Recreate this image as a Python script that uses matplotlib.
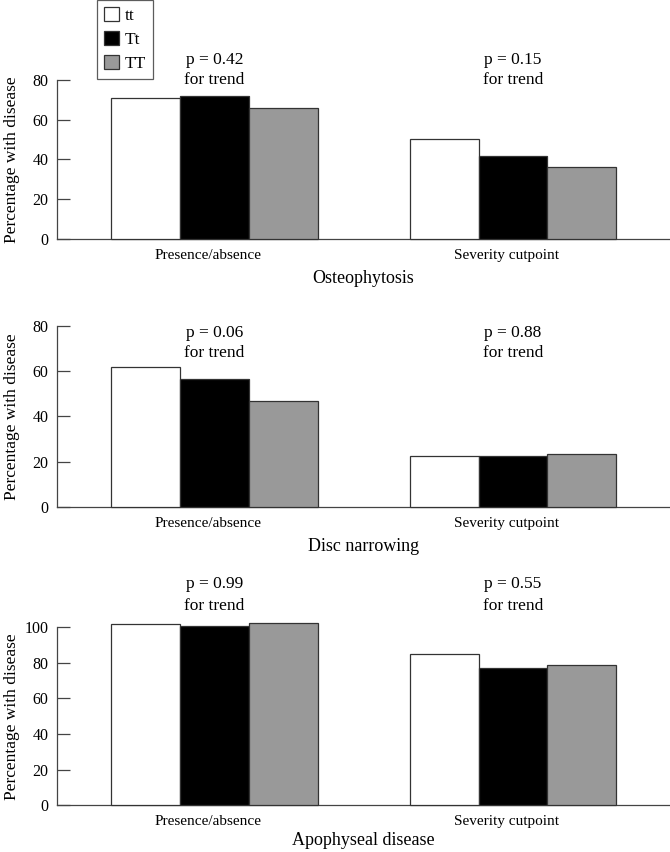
import matplotlib
matplotlib.use('Agg')
import matplotlib.pyplot as plt
import numpy as np
from matplotlib.patches import Patch

plt.rcParams['font.family'] = ['Liberation Serif', 'DejaVu Serif']

# data
groups = ['Presence/absence', 'Severity cutpoint']
genotypes = ['tt', 'Tt', 'TT']
colors = ['white', 'black', '#999999']

osteo_tt = [70.9, 50.1]
osteo_Tt = [71.9, 42.0]
osteo_TT = [66.0, 36.2]

disc_tt = [62.0, 22.7]
disc_Tt = [56.4, 22.7]
disc_TT = [46.8, 23.6]

apo_tt = [101.7, 84.9]
apo_Tt = [100.4, 77.3]
apo_TT = [102.2, 78.6]

p_osteo = ['0.42', '0.15']
p_disc = ['0.06', '0.88']
p_apo = ['0.99', '0.55']

titles = ['Osteophytosis', 'Disc narrowing', 'Apophyseal disease']

panels = [
    (titles[0], [osteo_tt, osteo_Tt, osteo_TT], p_osteo, 80, [0, 20, 40, 60, 80], (80, 90), 6),
    (titles[1], [disc_tt, disc_Tt, disc_TT], p_disc, 80, [0, 20, 40, 60, 80], (68, 77), 6),
    (titles[2], [apo_tt, apo_Tt, apo_TT], p_apo, 100, [0, 20, 40, 60, 80, 100], (112, 124), 3),
]

# axes boxes in figure fraction [left, bottom, width, height]
boxes = [
    [0.085, 0.7195, 0.915, 0.1866],
    [0.085, 0.405, 0.915, 0.2124],
    [0.085, 0.0546, 0.915, 0.2095],
]

fig = plt.figure(figsize=(6.7, 8.52), dpi=100)
w = 0.231
x = np.arange(len(groups))

for (title, series, pvals, ytop, yticks, txt_y, lpad), box in zip(panels, boxes):
    ax = fig.add_axes(box)
    for i, vals in enumerate(series):
        ax.bar(x + (i - 1) * w, vals, width=w, color=colors[i],
               edgecolor='#333333', linewidth=0.9, clip_on=False, zorder=3)
    ax.set_xlim(-0.528, 1.526)
    ax.set_ylim(0, ytop)
    ax.set_yticks(yticks)
    ax.set_xticks(x - 0.023)
    ax.set_xticklabels(groups, fontsize=11)
    ax.tick_params(axis='x', length=0, pad=7)
    ax.tick_params(axis='y', direction='in', length=9, width=0.9, color='#444444',
                   labelsize=11.5, pad=6)
    ax.spines['top'].set_visible(False)
    ax.spines['right'].set_visible(False)
    for s in ['left', 'bottom']:
        ax.spines[s].set_color('#444444')
        ax.spines[s].set_linewidth(0.9)
    ax.set_xlabel(title, fontsize=13, labelpad=lpad)
    ax.set_ylabel('Percentage with disease', fontsize=12.5)
    ax.yaxis.set_label_coords(-0.061, 0.5)
    for xi, p in zip(x, pvals):
        ax.text(xi, txt_y[1], 'p = ' + p, ha='center', va='center', fontsize=12.5, clip_on=False)
        ax.text(xi, txt_y[0], 'for trend', ha='center', va='center', fontsize=12.5, clip_on=False)

handles = [Patch(facecolor=c, edgecolor='#333333', linewidth=0.9) for c in colors]
leg = fig.legend(handles, genotypes, loc='upper left', bbox_to_anchor=(97 / 670, 1.0),
                 fontsize=12.5, frameon=True, fancybox=False, edgecolor='#333333',
                 handlelength=0.85, handleheight=0.85, handletextpad=0.35,
                 labelspacing=0.42, borderpad=0.4, borderaxespad=0)
leg.get_frame().set_linewidth(0.9)

fig.savefig('out.png', dpi=100)
